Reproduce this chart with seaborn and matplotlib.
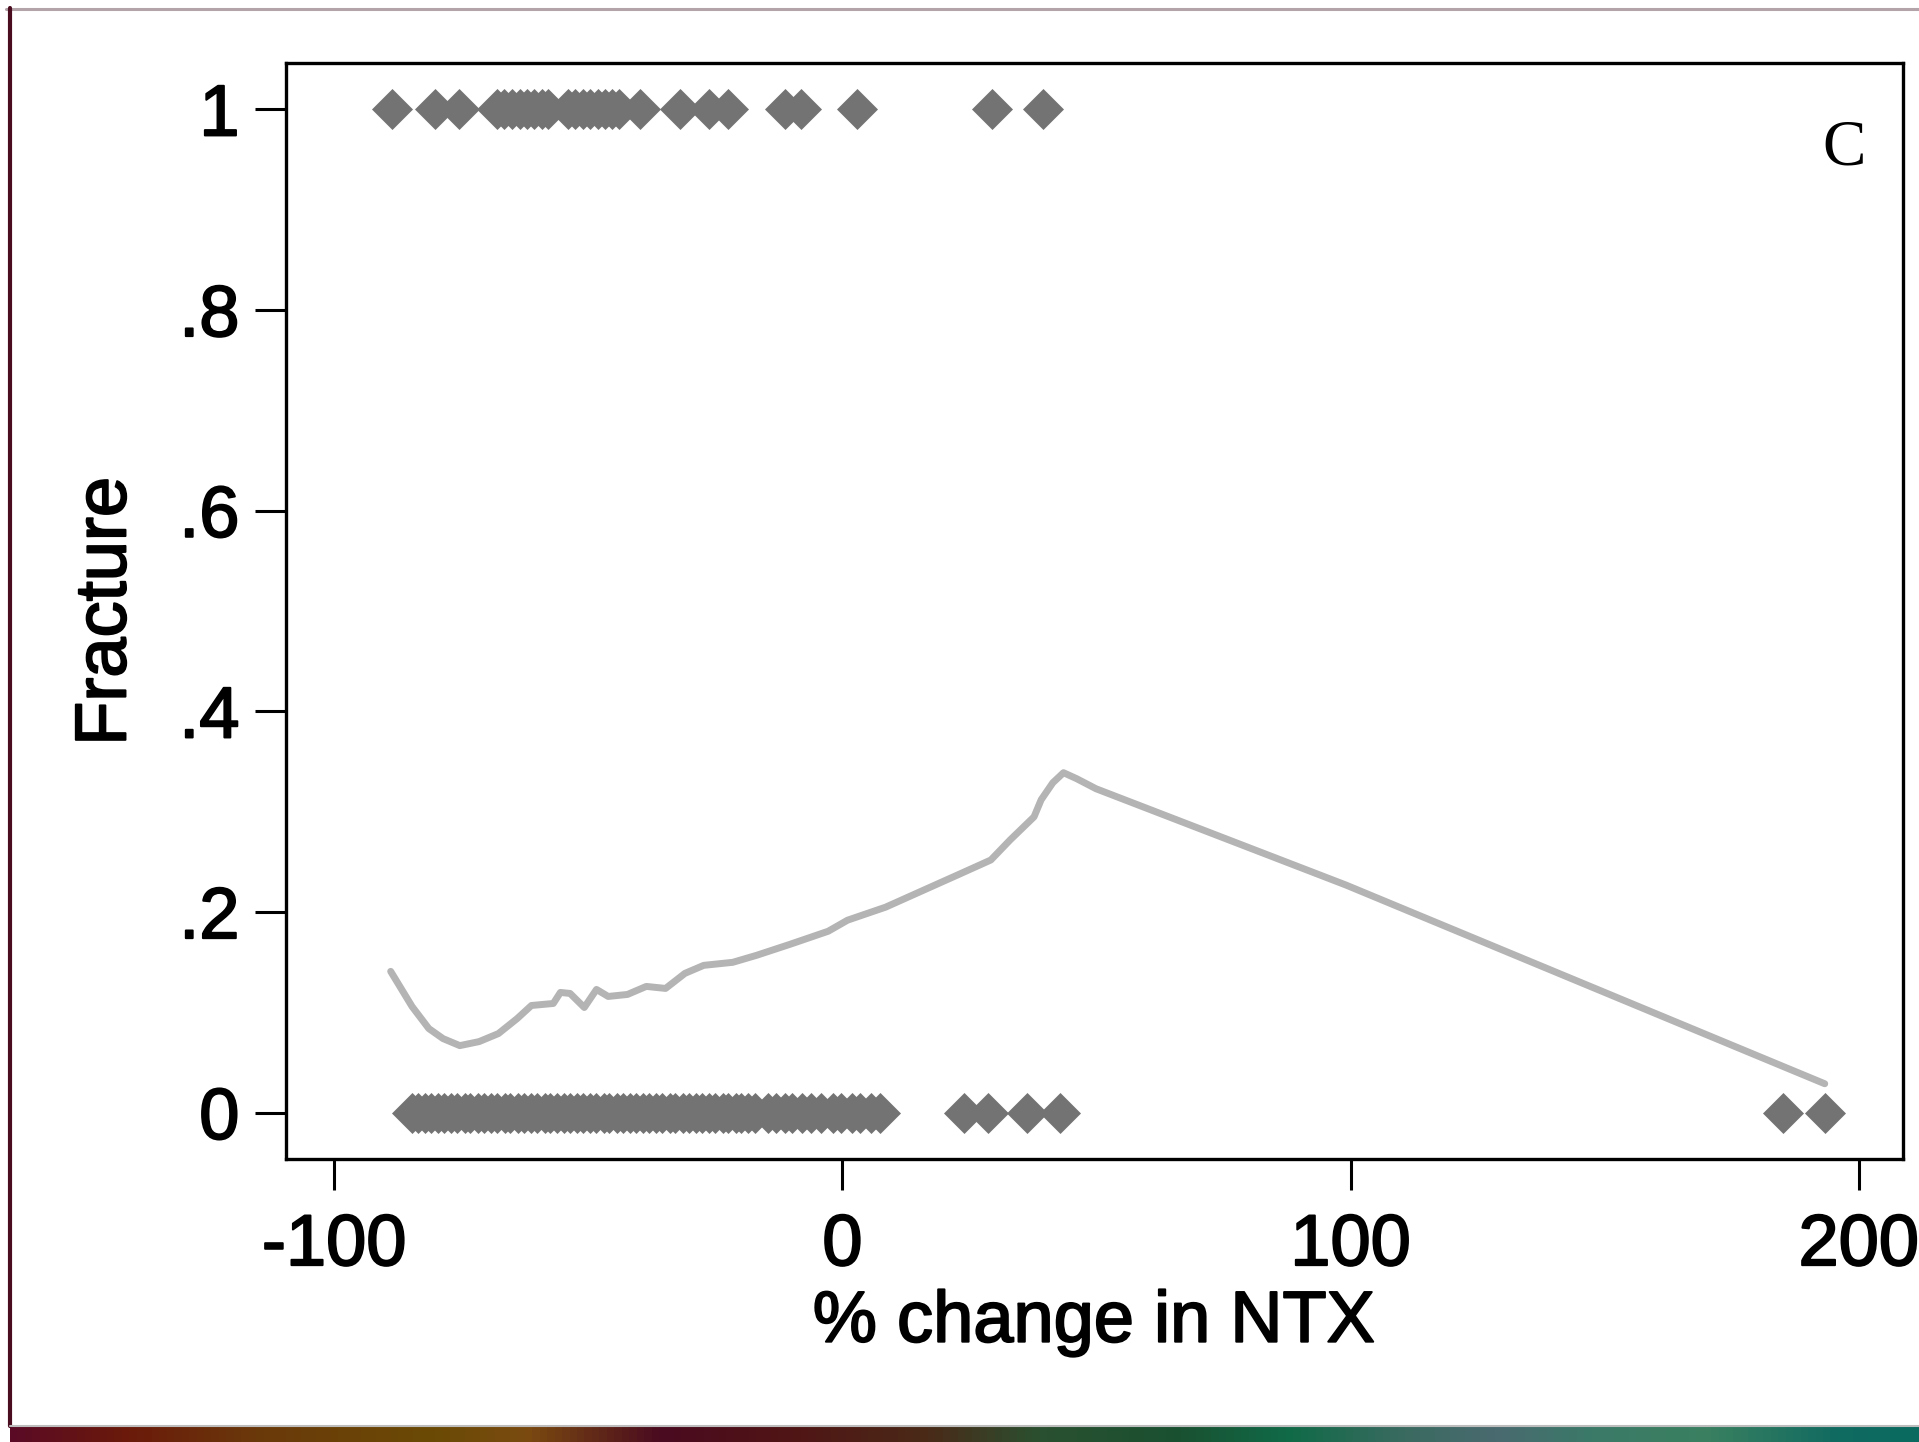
import numpy as np
import pandas as pd
import matplotlib
matplotlib.use("Agg")
import matplotlib.pyplot as plt
import matplotlib.patheffects as pe
import seaborn as sns
from matplotlib.colors import LinearSegmentedColormap
from matplotlib.lines import Line2D

# ---------------- data ----------------
# % change in NTX for patients with a fracture (Fracture = 1)
fracture_x = [-88.6, -80.1, -75.5,
              -68.0, -66.6, -65.1, -63.5, -62.0, -60.6, -59.2, -58.0,
              -54.0, -52.6, -51.1, -49.7, -48.2, -46.8, -45.3, -43.9,
              -39.9, -31.9, -26.3, -22.5, -11.3, -8.1, 2.8, 29.4, 39.4]

# % change in NTX for patients without a fracture (Fracture = 0)
no_fracture_x = [-84.8, -83.6, -82.1, -80.9, -79.5, -78.4, -77.0, -75.9, -74.3, -73.2,
                 -71.7, -70.6, -69.1, -68.0, -66.5, -65.4, -63.9, -62.7, -61.3, -60.2,
                 -58.6, -57.5, -56.1, -54.8, -53.6, -52.2, -51.0, -49.6, -48.5, -47.0,
                 -45.9, -44.4, -43.2, -41.8, -40.7, -39.2, -38.0, -36.7, -35.5, -34.0,
                 -32.9, -31.4, -30.2, -28.8, -27.7, -26.2, -25.0, -23.6, -22.5, -21.0,
                 -19.9, -18.5, -17.2,
                 -14.7, -13.1, -11.4, -9.9, -7.9, -6.1, -4.2, -1.9, -0.2,
                 1.9, 3.5, 5.7, 7.4,
                 23.9, 28.6, 36.4, 42.9,
                 185.0, 193.3]

# lowess smoother
smooth_x = [-88.9, -84.7, -81.4, -78.6, -75.3, -71.5, -67.7, -64.0, -61.2, -56.9,
            -55.5, -53.6, -50.8, -48.4, -46.1, -42.3, -38.6, -34.8, -31.0, -27.3,
            -21.6, -16.9, -10.3, -2.8, 1.0, 8.5, 16.0, 23.5, 29.2, 33.0,
            37.7, 39.1, 41.4, 43.5, 46.1, 49.9, 99.1, 193.3]
smooth_y = [0.141, 0.106, 0.084, 0.074, 0.067, 0.071, 0.079, 0.094, 0.107, 0.109,
            0.120, 0.119, 0.105, 0.123, 0.116, 0.118, 0.126, 0.124, 0.139, 0.147,
            0.150, 0.157, 0.168, 0.181, 0.192, 0.205, 0.222, 0.239, 0.252, 0.272,
            0.295, 0.312, 0.329, 0.339, 0.333, 0.323, 0.227, 0.029]

x_ticks = [-100, 0, 100, 200]
y_ticks = [0, 0.2, 0.4, 0.6, 0.8, 1]
y_tick_labels = ["0", ".2", ".4", ".6", ".8", "1"]

# ---------------- style ----------------
sns.set_theme(style="white")
plt.rcParams["font.family"] = ["Liberation Sans", "DejaVu Sans"]

W, H = 1919, 1442
fig = plt.figure(figsize=(W / 100, H / 100), dpi=100)
fig.patch.set_facecolor("white")

ax_l, ax_r, ax_t, ax_b = 286, 1902.5, 63.3, 1159
ax = fig.add_axes([ax_l / W, 1 - ax_b / H, (ax_r - ax_l) / W, (ax_b - ax_t) / H])
ax.set_facecolor("white")

pts = pd.DataFrame({
    "x": fracture_x + no_fracture_x,
    "y": [1] * len(fracture_x) + [0] * len(no_fracture_x),
})
sns.scatterplot(data=pts, x="x", y="y", marker="D", s=436, color="#737373",
                linewidth=0, ax=ax, legend=False, zorder=2)

line = pd.DataFrame({"x": smooth_x, "y": smooth_y})
sns.lineplot(data=line, x="x", y="y", color="#b4b4b4", linewidth=5,
             estimator=None, sort=False, ax=ax, zorder=3)

ax.set_xlim(-109.5, 208.6)
ax.set_ylim(-0.046, 1.046)
ax.set_xticks(x_ticks)
ax.set_xticklabels([str(t) for t in x_ticks])
ax.set_yticks(y_ticks)
ax.set_yticklabels(y_tick_labels)

for s in ax.spines.values():
    s.set_visible(True)
    s.set_color("black")
    s.set_linewidth(2.4)

ax.tick_params(axis="both", which="major", direction="out", length=22, width=2.2,
               color="black", labelsize=52, labelcolor="black",
               bottom=True, left=True, top=False, right=False)
ax.tick_params(axis="x", pad=17)
ax.tick_params(axis="y", pad=11.5)

heavy = [pe.withStroke(linewidth=1.4, foreground="black")]

ax.set_xlabel("% change in NTX", fontsize=52, color="black", va="baseline")
ax.xaxis.set_label_coords((ax_l + ax_r) / 2 / W, 1 - 1341.7 / H, transform=fig.transFigure)
ax.set_ylabel("Fracture", fontsize=52, color="black", va="baseline")
ax.yaxis.set_label_coords(125.5 / W, 1 - (ax_t + ax_b) / 2 / H, transform=fig.transFigure)

for t in ax.get_xticklabels() + ax.get_yticklabels() + [ax.xaxis.label, ax.yaxis.label]:
    t.set_path_effects(heavy)

ax.text(197.2, 0.9447, "C", fontsize=47, family=["Liberation Serif", "DejaVu Serif"],
        ha="center", va="baseline", color="black")

# ---------------- frame decoration ----------------
fig.add_artist(Line2D([6 / W, 1], [1 - 9 / H] * 2, transform=fig.transFigure,
                      color="#b3a4aa", lw=2.2))
fig.add_artist(Line2D([10 / W] * 2, [1 - 8 / H, 1 - 1426 / H], transform=fig.transFigure,
                      color="#4a0d20", lw=3.0))
fig.add_artist(Line2D([10 / W, 1], [1 - 1425.5 / H] * 2, transform=fig.transFigure,
                      color="#bdbdbd", lw=1.5))

band_colors = [(0.00, "#5a0a25"), (0.06, "#6b1a0a"), (0.13, "#6a3a0a"), (0.22, "#6a4a05"),
               (0.27, "#7a4a10"), (0.34, "#4a0a20"), (0.41, "#501515"), (0.48, "#4a2a18"),
               (0.54, "#2a5030"), (0.61, "#1a5030"), (0.67, "#106a48"), (0.73, "#3a6a60"),
               (0.78, "#4a6a70"), (0.83, "#3a7a68"), (0.89, "#3a8060"), (0.96, "#106a60"),
               (1.00, "#0a6a60")]
cmap = LinearSegmentedColormap.from_list("band", band_colors)
bax = fig.add_axes([10 / W, 0, 1 - 10 / W, 15 / H])
bax.imshow(np.linspace(0, 1, 512)[None, :], aspect="auto", cmap=cmap,
           extent=[0, 1, 0, 1])
bax.set_axis_off()

fig.savefig("out.png", dpi=100, facecolor="white")
